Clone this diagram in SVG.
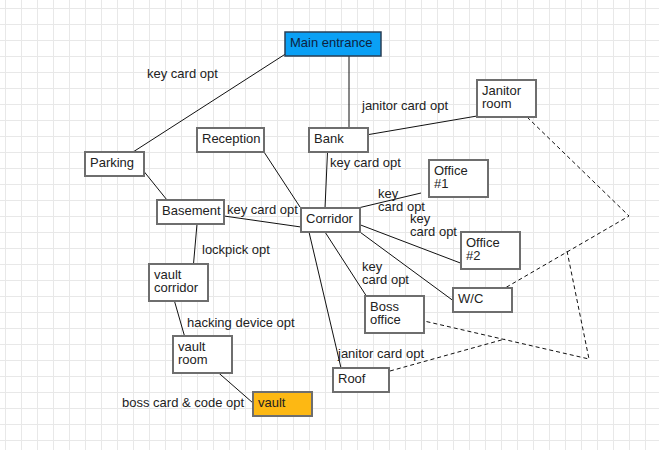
<svg xmlns="http://www.w3.org/2000/svg" width="659" height="450" viewBox="0 0 659 450">
<defs>
<pattern id="grid" x="5" y="8" width="16" height="16" patternUnits="userSpaceOnUse">
<path d="M0 0.5H16M0.5 0V16" fill="none" stroke="#e8e8e8" stroke-width="1"/>
</pattern>
</defs>
<style>
text{font-family:"Liberation Sans",Arial,sans-serif;font-size:13px;fill:#222}
.box{fill:#fff;stroke:#6e6e6e;stroke-width:2}
.edge{fill:none;stroke:#111;stroke-width:1}
.dash{fill:none;stroke:#111;stroke-width:1;stroke-dasharray:4 3}
</style>
<rect width="659" height="450" fill="#fff"/>
<rect width="659" height="450" fill="url(#grid)"/>
<g id="connectors">
<line class="edge" x1="133" y1="152" x2="287" y2="53"/>
<line class="edge" x1="349" y1="56" x2="349" y2="128"/>
<line class="edge" x1="366" y1="135" x2="477" y2="116"/>
<line class="edge" x1="327.5" y1="152" x2="325" y2="208"/>
<line class="edge" x1="264" y1="152" x2="300" y2="207"/>
<line class="edge" x1="142" y1="169" x2="167" y2="200"/>
<line class="edge" x1="224" y1="216" x2="301" y2="227"/>
<line class="edge" x1="197" y1="224" x2="193.5" y2="264"/>
<line class="edge" x1="173" y1="296" x2="184.5" y2="336"/>
<line class="edge" x1="213" y1="368" x2="253" y2="403"/>
<line class="edge" x1="309" y1="232" x2="341" y2="368"/>
<line class="edge" x1="325" y1="232" x2="367" y2="297"/>
<line class="edge" x1="349" y1="224" x2="455" y2="302"/>
<line class="edge" x1="358" y1="224" x2="463" y2="264"/>
<line class="edge" x1="358" y1="208" x2="421" y2="193"/>
<polyline class="dash" points="527,117 629,216 505,288"/>
<polyline class="dash" points="567,251 589,359 424,321"/>
<line class="dash" x1="390" y1="371" x2="505" y2="339"/>
</g>
<g id="labels">
<text x="147" y="78">key card opt</text>
<text x="362" y="110">janitor card opt</text>
<text x="330" y="167">key card opt</text>
<text x="227" y="214">key card opt</text>
<text x="378" y="198">key<tspan x="378" dy="13">card opt</tspan></text>
<text x="410" y="223">key<tspan x="410" dy="13">card opt</tspan></text>
<text x="362" y="271">key<tspan x="362" dy="13">card opt</tspan></text>
<text x="202" y="254">lockpick opt</text>
<text x="187" y="327">hacking device opt</text>
<text x="122" y="407">boss card &amp; code opt</text>
<text x="338" y="358">janitor card opt</text>
</g>
<g id="main-entrance">
<rect x="285" y="32" width="96" height="24" fill="#0aa0f5" stroke="#2a3f55" stroke-width="1.5"/>
<text x="290" y="47" style="fill:#0d2240">Main entrance</text>
</g>
<g id="reception"><rect class="box" x="197" y="128" width="67" height="24"/><text x="202" y="143">Reception</text></g>
<g id="bank"><rect class="box" x="309" y="128" width="59" height="24"/><text x="314" y="143">Bank</text></g>
<g id="parking"><rect class="box" x="85" y="152" width="59" height="24"/><text x="90" y="167">Parking</text></g>
<g id="janitor-room"><rect class="box" x="477" y="80" width="59" height="37"/><text x="482" y="95">Janitor<tspan x="482" dy="13">room</tspan></text></g>
<g id="basement"><rect class="box" x="157" y="200" width="67" height="24"/><text x="162" y="215">Basement</text></g>
<g id="corridor"><rect class="box" x="301" y="208" width="59" height="24"/><text x="306" y="223">Corridor</text></g>
<g id="office-1"><rect class="box" x="429" y="160" width="59" height="37"/><text x="434" y="175">Office<tspan x="434" dy="13">#1</tspan></text></g>
<g id="office-2"><rect class="box" x="461" y="232" width="59" height="37"/><text x="466" y="247">Office<tspan x="466" dy="13">#2</tspan></text></g>
<g id="wc"><rect class="box" x="453" y="288" width="59" height="24"/><text x="458" y="303">W/C</text></g>
<g id="boss-office"><rect class="box" x="365" y="296" width="59" height="37"/><text x="370" y="311">Boss<tspan x="370" dy="13">office</tspan></text></g>
<g id="roof"><rect class="box" x="333" y="368" width="56" height="24"/><text x="338" y="383">Roof</text></g>
<g id="vault-corridor"><rect class="box" x="149" y="264" width="59" height="37"/><text x="154" y="279">vault<tspan x="154" dy="13">corridor</tspan></text></g>
<g id="vault-room"><rect class="box" x="173" y="336" width="59" height="37"/><text x="178" y="351">vault<tspan x="178" dy="13">room</tspan></text></g>
<g id="vault">
<rect x="253" y="392" width="59" height="24" fill="#fdb813" stroke="#6e6e6e" stroke-width="2"/>
<text x="258" y="407">vault</text>
</g>
</svg>
